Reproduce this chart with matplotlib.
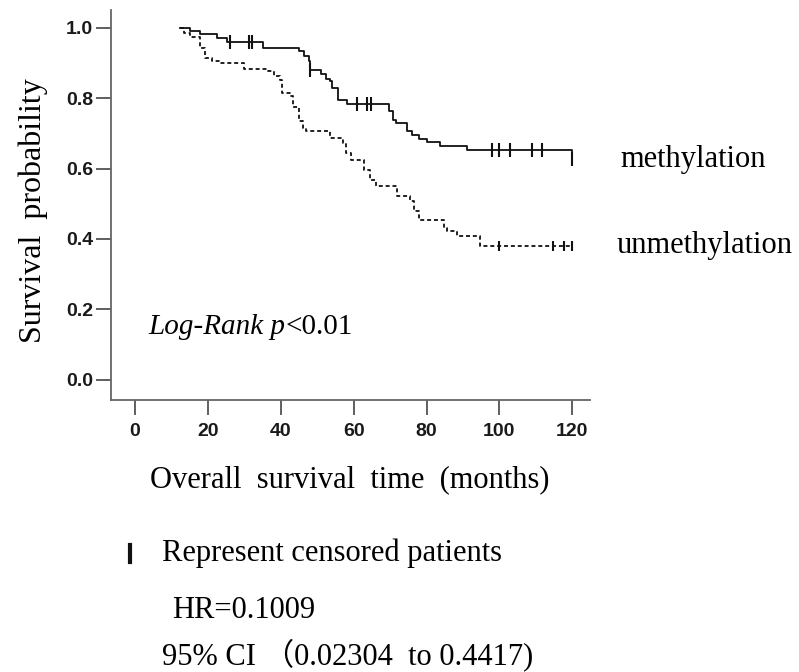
import matplotlib.pyplot as plt
import numpy as np

# Kaplan-Meier steps (time in months, survival after drop)
meth_times = [12.4, 15.1, 17.9, 22.4, 25.2, 35.2, 44.9, 46.3, 47.6, 48.1, 51.0, 52.5,
              53.6, 54.1, 55.8, 58.1, 69.6, 70.7, 71.6, 74.7, 76.0, 77.8, 80.1, 83.8,
              91.1, 120.0]
meth_surv = [1.0, 0.99, 0.982, 0.97, 0.958, 0.943, 0.933, 0.92, 0.905, 0.88, 0.869, 0.855,
             0.848, 0.828, 0.795, 0.783, 0.762, 0.739, 0.73, 0.706, 0.696, 0.684, 0.674, 0.663,
             0.652, 0.628]
meth_censor = [26.0, 31.3, 32.0, 48.1, 61.0, 63.6, 64.8, 98.0, 100.0, 102.8, 109.0, 111.8, 120.0]

unmeth_times = [12.4, 13.5, 15.0, 17.9, 19.3, 21.0, 23.3, 29.8, 36.6, 38.0, 39.8, 40.2,
                42.4, 43.4, 44.9, 46.1, 47.0, 53.6, 57.2, 58.0, 59.4, 62.7, 64.5, 66.0,
                71.9, 75.5, 76.5, 77.9, 84.7, 85.6, 88.4, 94.8, 120.0]
unmeth_surv = [1.0, 0.985, 0.973, 0.943, 0.914, 0.905, 0.9, 0.882, 0.876, 0.862, 0.852, 0.815,
               0.805, 0.776, 0.734, 0.715, 0.706, 0.686, 0.672, 0.644, 0.625, 0.597, 0.568, 0.549,
               0.521, 0.507, 0.479, 0.455, 0.431, 0.422, 0.407, 0.379, 0.379]
unmeth_censor = [99.8, 114.8, 117.6, 120.0]

x_ticks = [0, 20, 40, 60, 80, 100, 120]
y_ticks = [0.0, 0.2, 0.4, 0.6, 0.8, 1.0]

serif = 'Liberation Serif'
sans = 'Liberation Sans'


def step_value(times, surv, t):
    idx = np.searchsorted(times, t, side='right') - 1
    return np.asarray(surv)[np.clip(idx, 0, len(surv) - 1)]


fig = plt.figure(figsize=(7.99, 6.72), dpi=100)
ax = fig.add_axes([0.139, 0.405, 0.6, 0.58])

ax.step(meth_times, meth_surv, where='post', color='#111111', lw=1.3)
ax.step(unmeth_times, unmeth_surv, where='post', color='#111111', lw=1.3,
        linestyle=(0, (2.2, 1.6)))

ax.plot(meth_censor, step_value(meth_times, meth_surv, meth_censor), linestyle='none',
        marker='|', markersize=10, mew=1.5, color='#111111')
ax.plot(unmeth_censor, step_value(unmeth_times, unmeth_surv, unmeth_censor), linestyle='none',
        marker='|', markersize=7, mew=1.5, color='#111111')

ax.set_xlim(-6.6, 125)
ax.set_ylim(-0.057, 1.05)
ax.set_xticks(x_ticks)
ax.set_yticks(y_ticks)
ax.set_yticklabels([f'{v:.1f}' for v in y_ticks])
for lab in ax.get_xticklabels() + ax.get_yticklabels():
    lab.set_fontfamily(sans)
    lab.set_fontsize(14)
    lab.set_fontweight('bold')
    lab.set_color('#1a1a1a')
ax.tick_params(axis='both', direction='out', length=11, width=1.2, color='#444444')
ax.tick_params(axis='x', pad=6)
ax.tick_params(axis='y', pad=2)

for side in ['top', 'right']:
    ax.spines[side].set_visible(False)
for side in ['left', 'bottom']:
    ax.spines[side].set_color('#666666')
    ax.spines[side].set_linewidth(1.3)

t1 = ax.text(3.6, 0.15, 'Log-Rank p', fontfamily=serif, fontstyle='italic',
             fontsize=21, va='center', ha='left')
ax.annotate('<0.01', xy=(1, 0.5), xycoords=t1, va='center', ha='left',
            fontfamily=serif, fontsize=21)

fig.text(0.777, 0.762, 'methylation', fontfamily=serif, fontsize=22, va='center')
fig.text(0.772, 0.635, 'unmethylation', fontfamily=serif, fontsize=22, va='center')

fig.text(0.438, 0.286, 'Overall  survival  time  (months)', fontfamily=serif,
         fontsize=22, ha='center', va='center')
fig.text(0.041, 0.686, 'Survival  probability', fontfamily=serif, fontsize=23,
         rotation=90, ha='center', va='center')

fig.add_artist(plt.Line2D([0.163, 0.163], [0.163, 0.189], transform=fig.transFigure,
                          color='#111111', lw=3))
fig.text(0.203, 0.177, 'Represent censored patients', fontfamily=serif, fontsize=22,
         va='center')
fig.text(0.215, 0.092, 'HR=0.1009', fontfamily=serif, fontsize=22, va='center')
fig.text(0.203, 0.012, '95% CI （0.02304  to 0.4417)', fontfamily=[serif, 'Noto Sans CJK SC'],
         fontsize=22, va='baseline')

fig.savefig('out.png', dpi=100)
